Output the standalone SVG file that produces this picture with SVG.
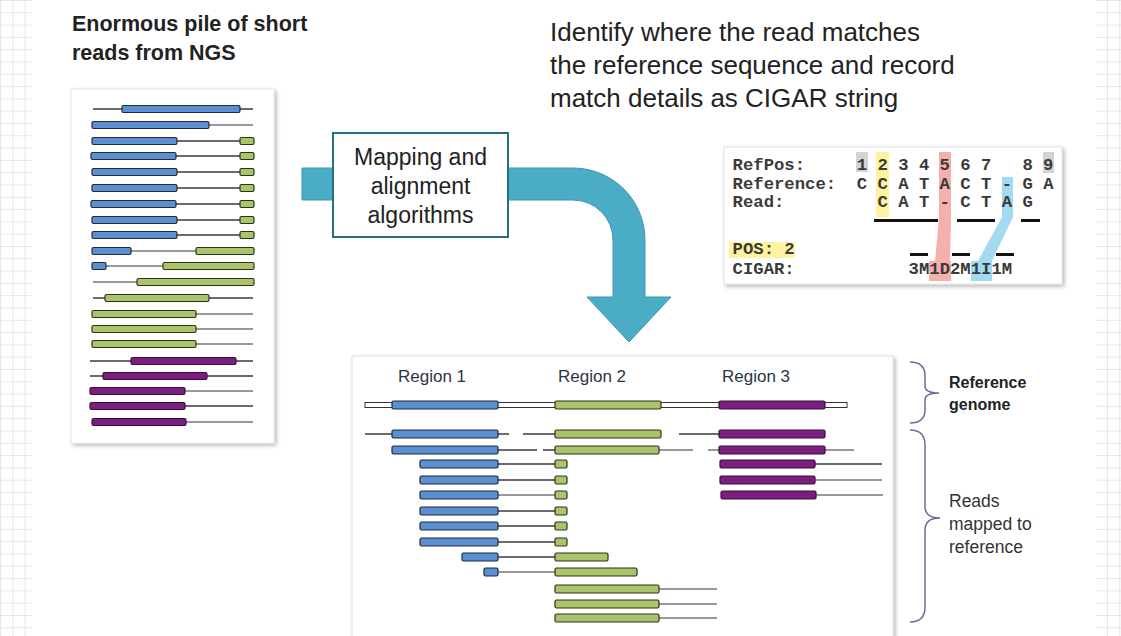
<svg xmlns="http://www.w3.org/2000/svg" width="1121" height="636" viewBox="0 0 1121 636">
<defs>
<filter id="sh" x="-5%" y="-5%" width="115%" height="115%">
<feDropShadow dx="2" dy="2" stdDeviation="2" flood-color="#000" flood-opacity="0.28"/>
</filter>
<pattern id="grid" width="12.3" height="12.3" patternUnits="userSpaceOnUse">
<path d="M0,0.5 H12.3 M0.5,0 V12.3" stroke="#e6e6e6" stroke-width="1" fill="none"/>
</pattern>
<style>
.b{fill:#5b8fcf;stroke:#1e2b3c;stroke-width:1.2}
.g{fill:#a9c46b;stroke:#2c3418;stroke-width:1.2}
.p{fill:#7b1f7f;stroke:#3b0c3d;stroke-width:1.2}
.ln{stroke:#3a3a3a;stroke-width:1.5;fill:none}
.lg{stroke:#777;stroke-width:1.5;fill:none}
.sans{font-family:"Liberation Sans",Arial,sans-serif;fill:#222}
.mono{font-family:"Liberation Mono","Courier New",monospace;font-size:17.25px;font-weight:bold;fill:#3a3a3a}
.ul{fill:#111}
</style>
</defs>
<rect width="1121" height="636" fill="#fff"/>
<rect x="0" y="0" width="32" height="636" fill="url(#grid)"/>
<rect x="1096" y="0" width="25" height="636" fill="url(#grid)"/>

<!-- titles -->
<g id="title-left" class="sans" font-weight="bold" font-size="21.5px">
<text x="72" y="31">Enormous pile of short</text>
<text x="72" y="60">reads from NGS</text>
</g>
<g id="title-right" class="sans" font-size="26px">
<text x="550" y="41">Identify where the read matches</text>
<text x="550" y="74">the reference sequence and record</text>
<text x="550" y="107">match details as CIGAR string</text>
</g>

<!-- left read pile -->
<g id="read-pile">
<rect x="71" y="89" width="203" height="354" fill="#fff" stroke="#e8e8e8" filter="url(#sh)"/>
<g>
<line class="ln" x1="93" y1="109" x2="253" y2="109"/><rect class="b" x="122" y="105.5" width="118" height="7" rx="1.5"/>
<line class="lg" x1="209" y1="125" x2="253" y2="125"/><rect class="b" x="92" y="121.5" width="117" height="7" rx="1.5"/>
<line class="ln" x1="177" y1="141" x2="240" y2="141"/><rect class="b" x="92" y="137.5" width="85" height="7" rx="1.5"/><rect class="g" x="240" y="137.5" width="14" height="7" rx="1.5"/>
<line class="ln" x1="176" y1="156" x2="240" y2="156"/><rect class="b" x="91" y="152.5" width="85" height="7" rx="1.5"/><rect class="g" x="240" y="152.5" width="14" height="7" rx="1.5"/>
<line class="ln" x1="177" y1="172" x2="240" y2="172"/><rect class="b" x="92" y="168.5" width="85" height="7" rx="1.5"/><rect class="g" x="240" y="168.5" width="14" height="7" rx="1.5"/>
<line class="ln" x1="177" y1="188" x2="240" y2="188"/><rect class="b" x="92" y="184.5" width="85" height="7" rx="1.5"/><rect class="g" x="240" y="184.5" width="14" height="7" rx="1.5"/>
<line class="ln" x1="176" y1="204" x2="240" y2="204"/><rect class="b" x="91" y="200.5" width="85" height="7" rx="1.5"/><rect class="g" x="240" y="200.5" width="14" height="7" rx="1.5"/>
<line class="ln" x1="177" y1="220" x2="240" y2="220"/><rect class="b" x="92" y="216.5" width="85" height="7" rx="1.5"/><rect class="g" x="240" y="216.5" width="14" height="7" rx="1.5"/>
<line class="ln" x1="177" y1="235" x2="240" y2="235"/><rect class="b" x="92" y="231.5" width="85" height="7" rx="1.5"/><rect class="g" x="240" y="231.5" width="14" height="7" rx="1.5"/>
<line class="lg" x1="131" y1="251" x2="196" y2="251"/><rect class="b" x="92" y="247.5" width="39" height="7" rx="1.5"/><rect class="g" x="196" y="247.5" width="58" height="7" rx="1.5"/>
<line class="lg" x1="106" y1="266" x2="163" y2="266"/><rect class="b" x="92" y="262.5" width="14" height="7" rx="1.5"/><rect class="g" x="163" y="262.5" width="91" height="7" rx="1.5"/>
<line class="lg" x1="93" y1="282" x2="137" y2="282"/><rect class="g" x="137" y="278.5" width="117" height="7" rx="1.5"/>
<line class="ln" x1="93" y1="298" x2="253" y2="298"/><rect class="g" x="105" y="294.5" width="104" height="7" rx="1.5"/>
<line class="lg" x1="196" y1="314" x2="253" y2="314"/><rect class="g" x="92" y="310.5" width="104" height="7" rx="1.5"/>
<line class="lg" x1="196" y1="329" x2="253" y2="329"/><rect class="g" x="92" y="325.5" width="104" height="7" rx="1.5"/>
<line class="lg" x1="196" y1="344" x2="253" y2="344"/><rect class="g" x="92" y="340.5" width="104" height="7" rx="1.5"/>
<line class="ln" x1="90" y1="361" x2="253" y2="361"/><rect class="p" x="131" y="357.5" width="105" height="7" rx="1.5"/>
<line class="ln" x1="90" y1="376" x2="253" y2="376"/><rect class="p" x="103" y="372.5" width="104" height="7" rx="1.5"/>
<line class="lg" x1="185" y1="391" x2="253" y2="391"/><rect class="p" x="90" y="387.5" width="95" height="7" rx="1.5"/>
<line class="ln" x1="185" y1="406" x2="253" y2="406"/><rect class="p" x="90" y="402.5" width="95" height="7" rx="1.5"/>
<line class="lg" x1="186" y1="422" x2="253" y2="422"/><rect class="p" x="92" y="418.5" width="94" height="7" rx="1.5"/>
</g>
</g>

<!-- connector arrow -->
<g id="connectors">
<path d="M302,168 L573,168 A72,72 0 0 1 645,240 L645,297 L671,297 L629,342 L587,297 L613,297 L613,240 A40,40 0 0 0 573,200 L302,200 Z" fill="#4bacc6" stroke="#3e97b0" stroke-width="1"/>
</g>

<g id="mapping-box">
<rect x="333" y="133" width="175" height="104" fill="#fff" stroke="#23707f" stroke-width="2"/>
<g class="sans" font-size="23px" text-anchor="middle">
<text x="420.5" y="165">Mapping and</text>
<text x="420.5" y="194">alignment</text>
<text x="420.5" y="223">algorithms</text>
</g>
</g>

<!-- CIGAR panel -->
<g id="cigar-panel">
<rect x="724" y="147" width="338" height="137" fill="#fff" stroke="#e2e2e2" filter="url(#sh)"/>
<rect x="856" y="152" width="12" height="20" fill="#d3d3d3"/>
<rect x="1043" y="152" width="11" height="21" fill="#d3d3d3"/>
<rect x="876" y="152" width="13" height="65" fill="#fff3a0"/>
<rect x="729" y="242" width="66" height="16" fill="#fff3a0"/>
<path d="M939,152 L951,152 L951,218 L950,261 L951,261 L951,281 L929,281 L929,261 L935,261 L939,218 Z" fill="#f3a29e" fill-opacity="0.85"/>
<path d="M1002,177 L1013,177 L1013,217 L992,261 L992,281 L971,281 L971,261 L978,261 L1002,217 Z" fill="#93d4ee" fill-opacity="0.85"/>
<g class="mono">
<text x="732.6" y="170">RefPos:</text>
<text x="856.8" y="170">1 2 3 4 5 6 7</text>
<text x="1022.4" y="170">8 9</text>
<text x="732.6" y="189">Reference:</text>
<text x="856.8" y="189">C C A T A C T - G A</text>
<text x="732.6" y="207">Read:</text>
<text x="877.5" y="207">C A T - C T A G</text>
<text x="732.6" y="254">POS: 2</text>
<text x="732.6" y="274">CIGAR:</text>
<text x="908.6" y="274">3M1D2M1I1M</text>
</g>
<rect class="ul" x="874" y="219" width="64" height="3"/>
<rect class="ul" x="957" y="219" width="38" height="3"/>
<rect class="ul" x="1021" y="219" width="19" height="3"/>
<rect class="ul" x="910" y="253" width="18" height="3"/>
<rect class="ul" x="952" y="253" width="18" height="3"/>
<rect class="ul" x="996" y="253" width="18" height="3"/>
</g>

<!-- regions panel -->
<g id="regions-panel">
<rect x="352" y="356" width="541" height="290" fill="#fff" stroke="#e2e2e2" filter="url(#sh)"/>
<g class="sans" font-size="17px" text-anchor="middle" style="fill:#2b3645">
<text x="432" y="382">Region 1</text>
<text x="592" y="382">Region 2</text>
<text x="756" y="382">Region 3</text>
</g>
<g id="reference-genome">
<rect x="365" y="402.5" width="482" height="5" fill="#fff" stroke="#333" stroke-width="1"/>
<rect class="b" x="392" y="401" width="106" height="8" rx="1.5"/>
<rect class="g" x="555" y="401" width="106" height="8" rx="1.5"/>
<rect class="p" x="719" y="401" width="106" height="8" rx="1.5"/>
</g>
<g id="mapped-reads">
<line class="ln" x1="365" y1="434" x2="509" y2="434"/><line class="ln" x1="523" y1="434" x2="555" y2="434"/><line class="ln" x1="679" y1="434" x2="719" y2="434"/>
<rect class="b" x="392" y="430" width="106" height="8" rx="1.5"/><rect class="g" x="555" y="430" width="106" height="8" rx="1.5"/><rect class="p" x="719" y="430" width="106" height="8" rx="1.5"/>
<line class="ln" x1="498" y1="450" x2="537" y2="450"/><line class="ln" x1="543" y1="450" x2="555" y2="450"/><line class="lg" x1="659" y1="450" x2="693" y2="450"/><line class="lg" x1="708" y1="450" x2="719" y2="450"/><line class="lg" x1="825" y1="450" x2="854" y2="450"/>
<rect class="b" x="392" y="446" width="106" height="8" rx="1.5"/><rect class="g" x="555" y="446" width="104" height="8" rx="1.5"/><rect class="p" x="719" y="446" width="106" height="8" rx="1.5"/>

<line class="ln" x1="498" y1="464" x2="555" y2="464"/><rect class="b" x="420" y="460" width="78" height="8" rx="1.5"/><rect class="g" x="555" y="460" width="12" height="8" rx="1.5"/>
<line class="ln" x1="498" y1="480" x2="555" y2="480"/><rect class="b" x="420" y="476" width="78" height="8" rx="1.5"/><rect class="g" x="555" y="476" width="12" height="8" rx="1.5"/>
<line class="lg" x1="498" y1="495" x2="555" y2="495"/><rect class="b" x="420" y="491" width="78" height="8" rx="1.5"/><rect class="g" x="555" y="491" width="12" height="8" rx="1.5"/>
<line class="ln" x1="498" y1="511" x2="555" y2="511"/><rect class="b" x="420" y="507" width="78" height="8" rx="1.5"/><rect class="g" x="555" y="507" width="12" height="8" rx="1.5"/>
<line class="ln" x1="498" y1="526" x2="555" y2="526"/><rect class="b" x="420" y="522" width="78" height="8" rx="1.5"/><rect class="g" x="555" y="522" width="12" height="8" rx="1.5"/>
<line class="ln" x1="498" y1="542" x2="555" y2="542"/><rect class="b" x="420" y="538" width="78" height="8" rx="1.5"/><rect class="g" x="555" y="538" width="12" height="8" rx="1.5"/>
<line class="ln" x1="498" y1="557" x2="555" y2="557"/><rect class="b" x="462" y="553" width="36" height="8" rx="1.5"/><rect class="g" x="555" y="553" width="53" height="8" rx="1.5"/>
<line class="lg" x1="498" y1="572" x2="555" y2="572"/><rect class="b" x="484" y="568" width="14" height="8" rx="1.5"/><rect class="g" x="555" y="568" width="82" height="8" rx="1.5"/>
<line class="lg" x1="659" y1="589" x2="717" y2="589"/><rect class="g" x="555" y="585" width="104" height="8" rx="1.5"/>
<line class="lg" x1="659" y1="604" x2="717" y2="604"/><rect class="g" x="555" y="600" width="104" height="8" rx="1.5"/>
<line class="lg" x1="659" y1="618" x2="717" y2="618"/><rect class="g" x="555" y="614" width="104" height="8" rx="1.5"/>

<line class="ln" x1="815" y1="464" x2="882" y2="464"/><rect class="p" x="720" y="460" width="95" height="8" rx="1.5"/>
<line class="lg" x1="815" y1="480" x2="882" y2="480"/><rect class="p" x="720" y="476" width="95" height="8" rx="1.5"/>
<line class="lg" x1="816" y1="495" x2="883" y2="495"/><rect class="p" x="721" y="491" width="95" height="8" rx="1.5"/>
</g>
</g>

<!-- braces and labels -->
<g id="brace-reference">
<path d="M910,362 Q925,362 925,376 L925,386 Q925,393 939,393 Q925,393 925,400 L925,410 Q925,423 910,423" fill="none" stroke="#6c6c9c" stroke-width="1.5"/>
<g class="sans" font-size="16px" font-weight="bold">
<text x="949" y="388">Reference</text>
<text x="949" y="410">genome</text>
</g>
</g>
<g id="brace-reads">
<path d="M910,430 Q925,430 925,445 L925,506 Q925,518 940,518 Q925,518 925,530 L925,607 Q925,622 910,622" fill="none" stroke="#6c6c9c" stroke-width="1.5"/>
<g class="sans" font-size="17.5px" style="fill:#333">
<text x="949" y="507">Reads</text>
<text x="949" y="530">mapped to</text>
<text x="949" y="553">reference</text>
</g>
</g>
</svg>
